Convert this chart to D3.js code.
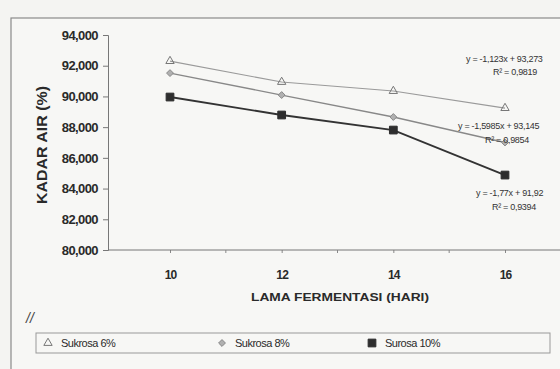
<!DOCTYPE html>
<html><head><meta charset="utf-8">
<script src="https://cdn.jsdelivr.net/npm/d3@7"></script>
<style>
html,body{margin:0;padding:0;background:#f4f4f2;}
svg{display:block;font-family:"Liberation Sans",Arial,sans-serif;}
</style></head>
<body>
<svg id="c" width="560" height="369"></svg>
<script>
// ---- data ----
const categories = [10, 12, 14, 16];
const sukrosa6 = [92.30, 90.94, 90.35, 89.24];
const sukrosa8 = [91.52, 90.09, 88.66, 87.00];
const surosa10 = [89.96, 88.79, 87.81, 84.88];
const yTickValues = [80, 82, 84, 86, 88, 90, 92, 94];
const yTickLabels = ["80,000","82,000","84,000","86,000","88,000","90,000","92,000","94,000"];
const seriesNames = ["Sukrosa 6%", "Sukrosa 8%", "Surosa 10%"];
const equations = [
  ["y = -1,123x + 93,273", "R² = 0,9819"],
  ["y = -1,5985x + 93,145", "R² = 0,9854"],
  ["y = -1,77x + 91,92", "R² = 0,9394"]
];
const yTitle = "KADAR AIR (%)";
const xTitle = "LAMA FERMENTASI (HARI)";

// ---- drawing ----
const svg = d3.select("#c");
svg.append("rect").attr("x",11).attr("y",18).attr("width",600).attr("height",400)
  .attr("fill","#f7f7f5").attr("stroke","#8a8a8a").attr("stroke-width",1.2);

const x = d3.scalePoint().domain(categories).range([170, 505]);
const y = d3.scaleLinear().domain([80, 94]).range([250, 35]);
const step = x.step();

// y axis
const yAxis = d3.axisLeft(y).tickValues(yTickValues)
  .tickFormat((d,i) => yTickLabels[i]).tickSize(5).tickPadding(5);
const gy = svg.append("g").attr("transform","translate(108,0)").call(yAxis);
gy.select(".domain").attr("stroke","#777");
gy.selectAll(".tick line").attr("stroke","#777");
gy.selectAll(".tick text").attr("font-size",13).attr("fill","#2a2a2a")
  .attr("font-weight","bold").attr("letter-spacing",-0.6);

// x axis
const gx = svg.append("g").attr("transform","translate(0,250)")
  .call(d3.axisBottom(x).tickSize(3).tickPadding(17).tickFormat(d => d));
gx.select(".domain").remove();
gx.append("line").attr("x1",108).attr("x2",560).attr("y1",0).attr("y2",0).attr("stroke","#777");
gx.selectAll(".tick line").attr("stroke","#888");
gx.selectAll(".tick text").attr("font-size",12).attr("fill","#2a2a2a").attr("font-weight","bold")
  .attr("letter-spacing",-0.8);
// boundary ticks between categories
gx.selectAll(".btick").data(categories.slice(1)).enter().append("line")
  .attr("x1", d => x(d) - step/2).attr("x2", d => x(d) - step/2)
  .attr("y1",0).attr("y2",3).attr("stroke","#888");

// titles
svg.append("text").attr("transform","translate(47,145) rotate(-90)")
  .attr("text-anchor","middle").attr("font-size",14).attr("font-weight","bold")
  .attr("fill","#2a2a2a").attr("textLength",118).attr("lengthAdjust","spacingAndGlyphs").text(yTitle);
svg.append("text").attr("x",340).attr("y",301).attr("text-anchor","middle")
  .attr("font-size",11.5).attr("fill","#2a2a2a").attr("font-weight","bold")
  .attr("textLength",178).attr("lengthAdjust","spacingAndGlyphs").text(xTitle);

// lines
const line = d3.line().x((d,i) => x(categories[i])).y(d => y(d));
const styles = [
  {stroke:"#9a9a9a", w:1.1},
  {stroke:"#888", w:1.3},
  {stroke:"#333", w:1.9}
];
const allSeries = [sukrosa6, sukrosa8, surosa10];
allSeries.forEach((s,k) => {
  svg.append("path").datum(s).attr("d", line).attr("fill","none")
    .attr("stroke", styles[k].stroke).attr("stroke-width", styles[k].w);
});

// markers
const sym = [d3.symbolTriangle, d3.symbolDiamond2, d3.symbolSquare];
const symSize = [30, 30, 60];
const symFill = ["none", "#b0b0b0", "#2e2e2e"];
const symStroke = ["#777", "#888", "#2e2e2e"];
function marker(g, k, cx, cy){
  g.append("path").attr("d", d3.symbol().type(sym[k]).size(symSize[k])())
   .attr("transform",`translate(${cx},${cy})`)
   .attr("fill", symFill[k]).attr("stroke", symStroke[k]).attr("stroke-width",1);
}
allSeries.forEach((s,k) => {
  s.forEach((v,i) => marker(svg, k, x(categories[i]), y(v)));
});

// equation labels
const eqPos = [[466,62,515,75],[458,129,507,143],[476,196,514,210]];
equations.forEach((e,k) => {
  svg.append("text").attr("x",eqPos[k][0]).attr("y",eqPos[k][1]).attr("font-size",9)
    .attr("fill","#333").attr("letter-spacing",-0.3).text(e[0]);
  svg.append("text").attr("x",eqPos[k][2]).attr("y",eqPos[k][3]).attr("font-size",9)
    .attr("text-anchor","middle").attr("fill","#333").attr("letter-spacing",-0.3).text(e[1]);
});

// "//" mark
svg.append("text").attr("x",26).attr("y",323).attr("font-size",14).attr("font-style","italic")
  .attr("fill","#444").text("//");

// legend
svg.append("rect").attr("x",36).attr("y",333).attr("width",514).attr("height",20)
  .attr("fill","none").attr("stroke","#999").attr("stroke-width",1);
const legX = [48, 222, 372];
seriesNames.forEach((n,k) => {
  marker(svg, k, legX[k], 343);
  svg.append("text").attr("x", legX[k] + 13).attr("y",347).attr("font-size",11)
    .attr("fill","#2a2a2a").attr("letter-spacing",-0.5).text(n);
});
</script>
</body></html>
